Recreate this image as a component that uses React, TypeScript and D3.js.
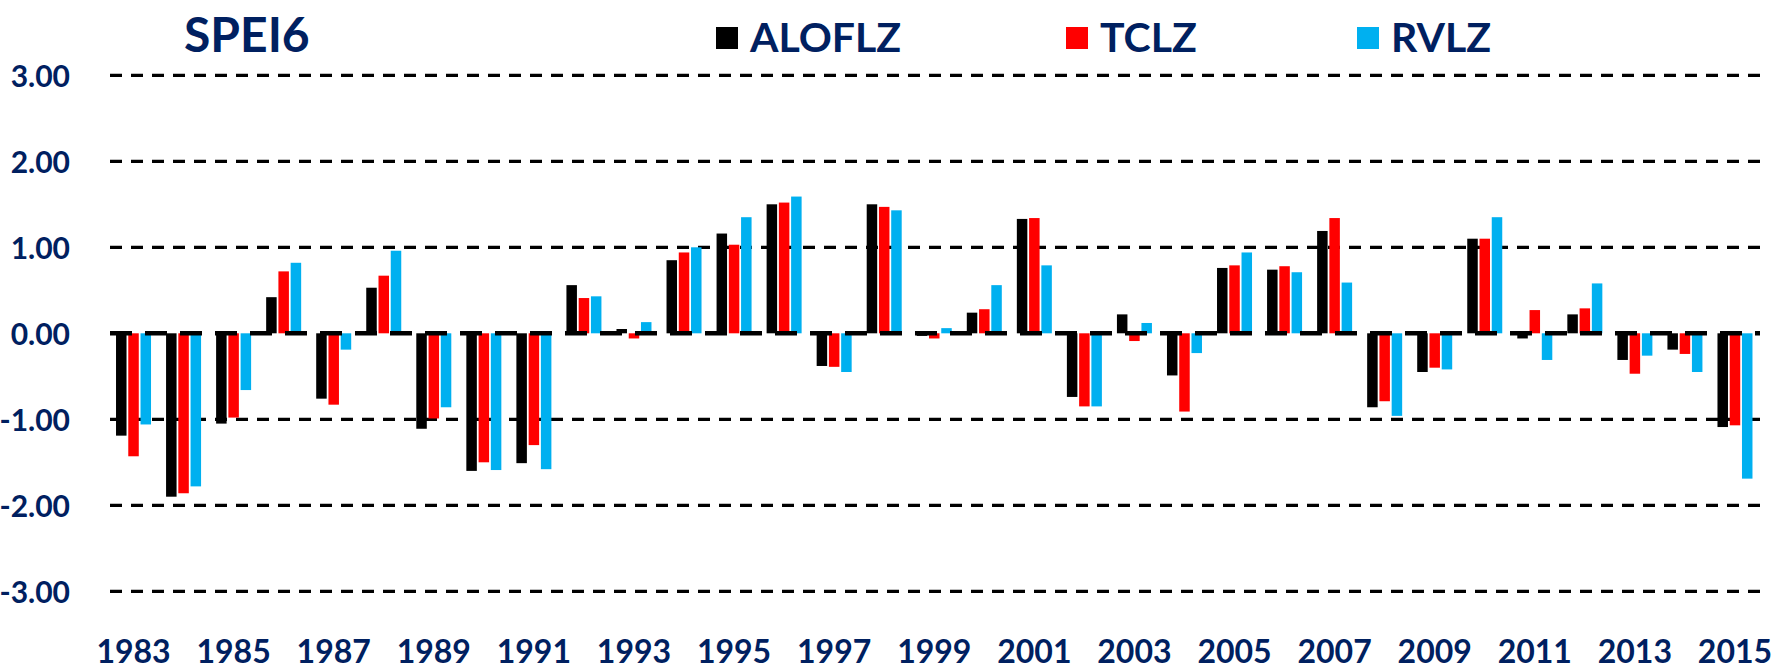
import React from "react";
import * as d3 from "d3";

const years = ["1983","1984","1985","1986","1987","1988","1989","1990","1991","1992","1993","1994","1995","1996","1997","1998","1999","2000","2001","2002","2003","2004","2005","2006","2007","2008","2009","2010","2011","2012","2013","2014","2015"];
const ALOFLZ = [-1.19,-1.90,-1.05,0.42,-0.76,0.53,-1.11,-1.60,-1.51,0.56,0.05,0.85,1.16,1.50,-0.38,1.50,-0.03,0.24,1.33,-0.74,0.22,-0.49,0.76,0.74,1.19,-0.86,-0.45,1.10,-0.06,0.22,-0.31,-0.19,-1.09];
const TCLZ = [-1.43,-1.86,-0.98,0.72,-0.83,0.67,-0.99,-1.50,-1.30,0.41,-0.06,0.94,1.03,1.52,-0.39,1.47,-0.06,0.28,1.34,-0.85,-0.09,-0.91,0.79,0.78,1.34,-0.79,-0.40,1.10,0.27,0.29,-0.47,-0.24,-1.07];
const RVLZ = [-1.06,-1.78,-0.66,0.82,-0.19,0.96,-0.86,-1.59,-1.58,0.43,0.13,1.00,1.35,1.59,-0.45,1.43,0.06,0.56,0.79,-0.85,0.12,-0.23,0.94,0.71,0.59,-0.96,-0.42,1.35,-0.31,0.58,-0.26,-0.45,-1.69];
const seriesNames = ["ALOFLZ", "TCLZ", "RVLZ"];
const seriesColors = ["#000000", "#FF0000", "#00B0F0"];
const yTicks = [3, 2, 1, 0, -1, -2, -3];
const xLabels = ["1983","1985","1987","1989","1991","1993","1995","1997","1999","2001","2003","2005","2007","2009","2011","2013","2015"];

const W = 1773, H = 670;
const NAVY = "#002060";
const FONT = "Lato, 'Open Sans', sans-serif";

export default function App() {
  const series = [ALOFLZ, TCLZ, RVLZ];
  const y = d3.scaleLinear().domain([-3, 3]).range([591.3, 75.3]);
  const x = d3.scaleBand<string>().domain(years).range([108.5, 1760]).paddingInner(0).paddingOuter(0);
  const barW = 10.5, gap = 1.75;
  const plotL = 110, plotR = 1760;
  const legendX = [716, 1066, 1357];

  return (
    <svg width={W} height={H} style={{ position: "absolute", left: 0, top: 0, background: "#fff" }}>
      <rect x={0} y={0} width={W} height={H} fill="#fff" />
      {yTicks.filter(t => t !== 0).map(t => (
        <line key={"g" + t} x1={plotL} x2={plotR} y1={y(t)} y2={y(t)} stroke="#000" strokeWidth={3.3} strokeDasharray="12 9" />
      ))}
      {series.map((vals, si) =>
        vals.map((v, i) => {
          const cx = (x(years[i]) as number) + x.bandwidth() / 2 + (si - 1) * (barW + gap);
          const y0 = y(0), y1 = y(v);
          return (
            <rect key={si + "-" + i} x={cx - barW / 2} y={Math.min(y0, y1)} width={barW} height={Math.abs(y1 - y0)} fill={seriesColors[si]} />
          );
        })
      )}
      <line x1={plotL} x2={plotR} y1={y(0)} y2={y(0)} stroke="#000" strokeWidth={4.5} strokeDasharray="22 13" />
      {yTicks.map(t => (
        <text key={"t" + t} x={70} y={y(t)} textAnchor="end" dominantBaseline="central" fontFamily={FONT} fontWeight={700} fontSize={30} fill={NAVY}>
          {t.toFixed(2)}
        </text>
      ))}
      {xLabels.map(l => (
        <text key={l} x={(x(l) as number) + x.bandwidth() / 2} y={663} textAnchor="middle" fontFamily={FONT} fontWeight={700} fontSize={32} fill={NAVY}>
          {l}
        </text>
      ))}
      <text x={184} y={52} fontFamily={FONT} fontWeight={700} fontSize={48} fill={NAVY}>SPEI6</text>
      {seriesNames.map((n, i) => (
        <g key={n}>
          <rect x={legendX[i]} y={27} width={22} height={22} fill={seriesColors[i]} />
          <text x={legendX[i] + 34} y={52} fontFamily={FONT} fontWeight={700} fontSize={41} fill={NAVY}>{n}</text>
        </g>
      ))}
    </svg>
  );
}
